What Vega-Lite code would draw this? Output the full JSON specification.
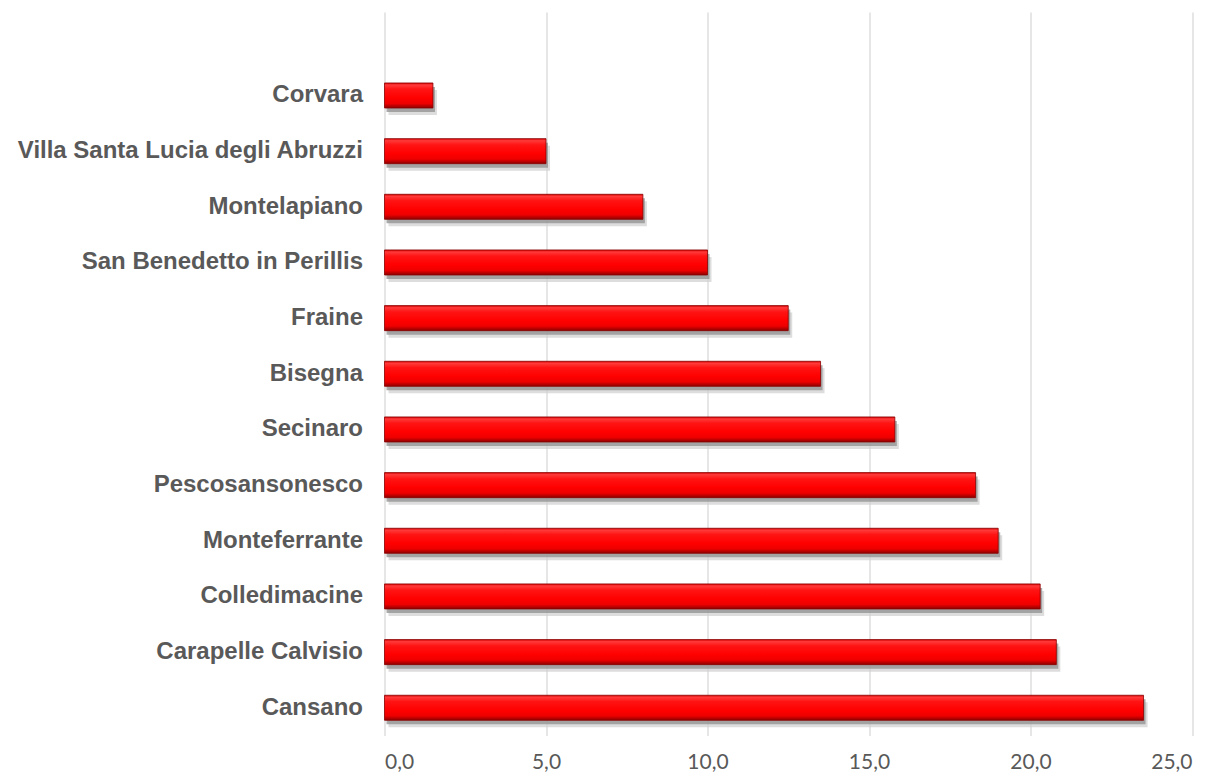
{
  "$schema": "https://vega.github.io/schema/vega-lite/v6.json",
  "autosize": {"type": "none"},
  "padding": {"left": 384.5, "top": 12, "right": 24, "bottom": 41},
  "width": 807.5,
  "height": 723.6,
  "background": "#ffffff",
  "config": {"view": {"stroke": null}},
  "data": {
    "values": [
      {"comune": "Corvara", "valore": 1.5},
      {"comune": "Villa Santa Lucia degli Abruzzi", "valore": 5.0},
      {"comune": "Montelapiano", "valore": 8.0},
      {"comune": "San Benedetto in Perillis", "valore": 10.0},
      {"comune": "Fraine", "valore": 12.5},
      {"comune": "Bisegna", "valore": 13.5},
      {"comune": "Secinaro", "valore": 15.8},
      {"comune": "Pescosansonesco", "valore": 18.3},
      {"comune": "Monteferrante", "valore": 19.0},
      {"comune": "Colledimacine", "valore": 20.3},
      {"comune": "Carapelle Calvisio", "valore": 20.8},
      {"comune": "Cansano", "valore": 23.5}
    ]
  },
  "encoding": {
    "y": {
      "field": "comune",
      "type": "nominal",
      "scale": {
        "domain": ["", "Corvara", "Villa Santa Lucia degli Abruzzi", "Montelapiano", "San Benedetto in Perillis", "Fraine", "Bisegna", "Secinaro", "Pescosansonesco", "Monteferrante", "Colledimacine", "Carapelle Calvisio", "Cansano"],
        "paddingInner": 0.55,
        "paddingOuter": 0.275
      },
      "axis": {
        "title": null,
        "domain": false,
        "ticks": false,
        "tickSize": 0,
        "labelPadding": 22,
        "labelFont": "Liberation Sans",
        "labelFontWeight": "bold",
        "labelFontSize": 24,
        "labelColor": "#595959",
        "labelLimit": 400,
        "grid": false
      }
    },
    "x": {
      "field": "valore",
      "type": "quantitative",
      "scale": {"domain": [0, 25], "nice": false},
      "axis": {
        "title": null,
        "values": [0, 5, 10, 15, 20, 25],
        "labelExpr": "replace(format(datum.value, '.1f'), '.', ',')",
        "domain": false,
        "ticks": false,
        "tickSize": 0,
        "labelPadding": 16,
        "labelFont": "Lato",
        "labelFontSize": 21,
        "labelColor": "#595959",
        "grid": true,
        "gridColor": "#d9d9d9",
        "gridWidth": 1.3
      }
    }
  },
  "layer": [
    {
      "mark": {"type": "bar", "color": "#cfcfcf", "opacity": 0.7, "yOffset": 7, "xOffset": 4},
      "encoding": {}
    },
    {
      "mark": {"type": "bar", "color": "#8f8f8f", "opacity": 0.75, "yOffset": 4, "xOffset": 2},
      "encoding": {}
    },
    {
      "mark": {
        "type": "bar",
        "stroke": "#8a0000",
        "strokeWidth": 0.8,
        "color": {
          "gradient": "linear",
          "x1": 0, "y1": 0, "x2": 0, "y2": 1,
          "stops": [
            {"offset": 0, "color": "#d80000"},
            {"offset": 0.08, "color": "#ff3a3a"},
            {"offset": 0.25, "color": "#ff1414"},
            {"offset": 0.6, "color": "#ff0000"},
            {"offset": 0.82, "color": "#ee0000"},
            {"offset": 1, "color": "#8c0000"}
          ]
        }
      },
      "encoding": {}
    }
  ]
}
